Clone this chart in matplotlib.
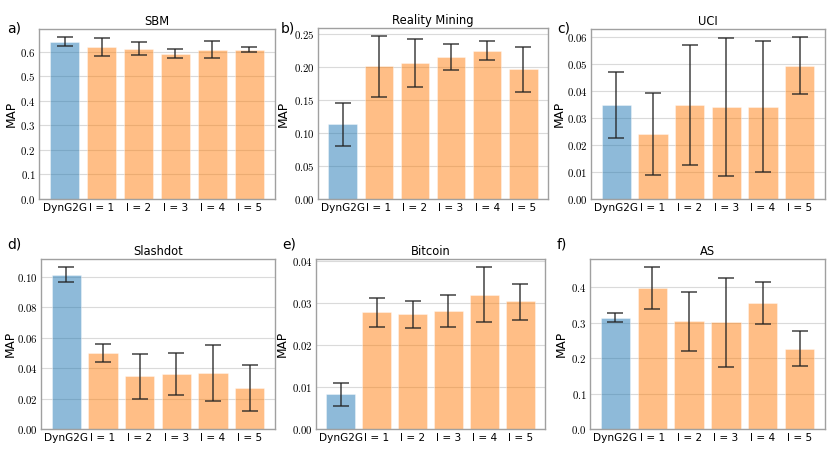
import matplotlib
matplotlib.use("Agg")
import matplotlib.pyplot as plt
from matplotlib.ticker import FuncFormatter
import numpy as np

plt.rcParams['font.family'] = ['DejaVu Sans']
plt.rcParams['mathtext.fontset'] = 'cm'

categories = ["DynG2G", "l = 1", "l = 2", "l = 3", "l = 4", "l = 5"]

titles = ["SBM", "Reality Mining", "UCI", "Slashdot", "Bitcoin", "AS"]
letters = ["a)", "b)", "c)", "d)", "e)", "f)"]

# mean values and (lower, upper) error-bar ends
sbm_mean = [0.641, 0.620, 0.613, 0.592, 0.609, 0.609]
sbm_low = [0.625, 0.582, 0.587, 0.574, 0.574, 0.600]
sbm_high = [0.660, 0.658, 0.640, 0.611, 0.645, 0.618]

rm_mean = [0.113, 0.201, 0.206, 0.215, 0.225, 0.197]
rm_low = [0.080, 0.155, 0.170, 0.196, 0.211, 0.162]
rm_high = [0.145, 0.247, 0.242, 0.235, 0.239, 0.231]

uci_mean = [0.0348, 0.0241, 0.0348, 0.0340, 0.0342, 0.0494]
uci_low = [0.0227, 0.0089, 0.0126, 0.0084, 0.0099, 0.0389]
uci_high = [0.0470, 0.0393, 0.0570, 0.0596, 0.0585, 0.0601]

slash_mean = [0.1012, 0.0499, 0.0345, 0.0360, 0.0368, 0.0268]
slash_low = [0.0962, 0.0441, 0.0197, 0.0225, 0.0185, 0.0116]
slash_high = [0.1063, 0.0561, 0.0492, 0.0497, 0.0553, 0.0423]

btc_mean = [0.0083, 0.0278, 0.0274, 0.0282, 0.0320, 0.0304]
btc_low = [0.0056, 0.0243, 0.0241, 0.0243, 0.0254, 0.0261]
btc_high = [0.0110, 0.0312, 0.0306, 0.0320, 0.0386, 0.0345]

as_mean = [0.314, 0.397, 0.304, 0.301, 0.355, 0.226]
as_low = [0.301, 0.338, 0.220, 0.175, 0.297, 0.177]
as_high = [0.327, 0.457, 0.387, 0.425, 0.415, 0.276]

panels = [
    (sbm_mean, sbm_low, sbm_high, 1),
    (rm_mean, rm_low, rm_high, 2),
    (uci_mean, uci_low, uci_high, 2),
    (slash_mean, slash_low, slash_high, 2),
    (btc_mean, btc_low, btc_high, 2),
    (as_mean, as_low, as_high, 1),
]

W, H = 830, 467
fig = plt.figure(figsize=(W / 100, H / 100), dpi=100)

# axes boxes in pixels: left, right, top, bottom
boxes = [
    (39, 275, 29, 199),
    (318, 548, 28, 199),
    (591, 825, 29, 199),
    (41, 275, 259, 429),
    (316, 545, 259, 429),
    (590, 825, 259, 429),
]
ylabel_x = [11, 283, 559, 10, 282, 561]
letter_pos = [(7, 28), (281, 28), (557, 28), (7, 245), (282, 245), (557, 245)]

blue = '#1f77b4'
orange = '#ff7f0e'
colors = [blue] + [orange] * 5

for i, ((mean, low, high, dec), box, title, letter, lp, yx) in enumerate(
        zip(panels, boxes, titles, letters, letter_pos, ylabel_x)):
    l, r, t, b = box
    ax = fig.add_axes([l / W, (H - b) / H, (r - l) / W, (b - t) / H])
    x = np.arange(len(categories))
    mean = np.array(mean)
    yerr = np.vstack([mean - np.array(low), np.array(high) - mean])
    ax.bar(x, mean, width=0.8, color=colors, alpha=0.5,
           edgecolor='white', linewidth=0.5, zorder=2)
    ax.errorbar(x, mean, yerr=yerr, fmt='none', ecolor='#222222',
                elinewidth=1.1, capsize=5.5, capthick=1.1, alpha=0.85, zorder=3)
    ax.margins(y=0.05)
    ax.set_ylim(bottom=0)
    ax.set_axisbelow(True)
    ax.yaxis.grid(True, color='#dadada', linewidth=0.8)
    ax.xaxis.grid(False)
    ax.set_xticks(x)
    ax.set_xticklabels(categories, fontsize=7.6)
    ax.tick_params(axis='x', length=0, pad=3)
    ax.tick_params(axis='y', length=0, pad=2.5, labelsize=7.8)
    ax.yaxis.set_major_formatter(FuncFormatter(
        lambda v, p, d=dec: r'$%.*f$' % (d, v)))
    for s in ax.spines.values():
        s.set_color('#a0a0a0')
        s.set_linewidth(1.0)
    ax.set_title(title, fontsize=8.3, pad=3)
    ax.set_ylabel('MAP', fontsize=8.7, va='center')
    ax.yaxis.set_label_coords((yx - l) / (r - l), 0.5)
    fig.text(lp[0] / W, 1 - lp[1] / H, letter, fontsize=10, va='center', ha='left')

fig.savefig('out.png', dpi=100)
